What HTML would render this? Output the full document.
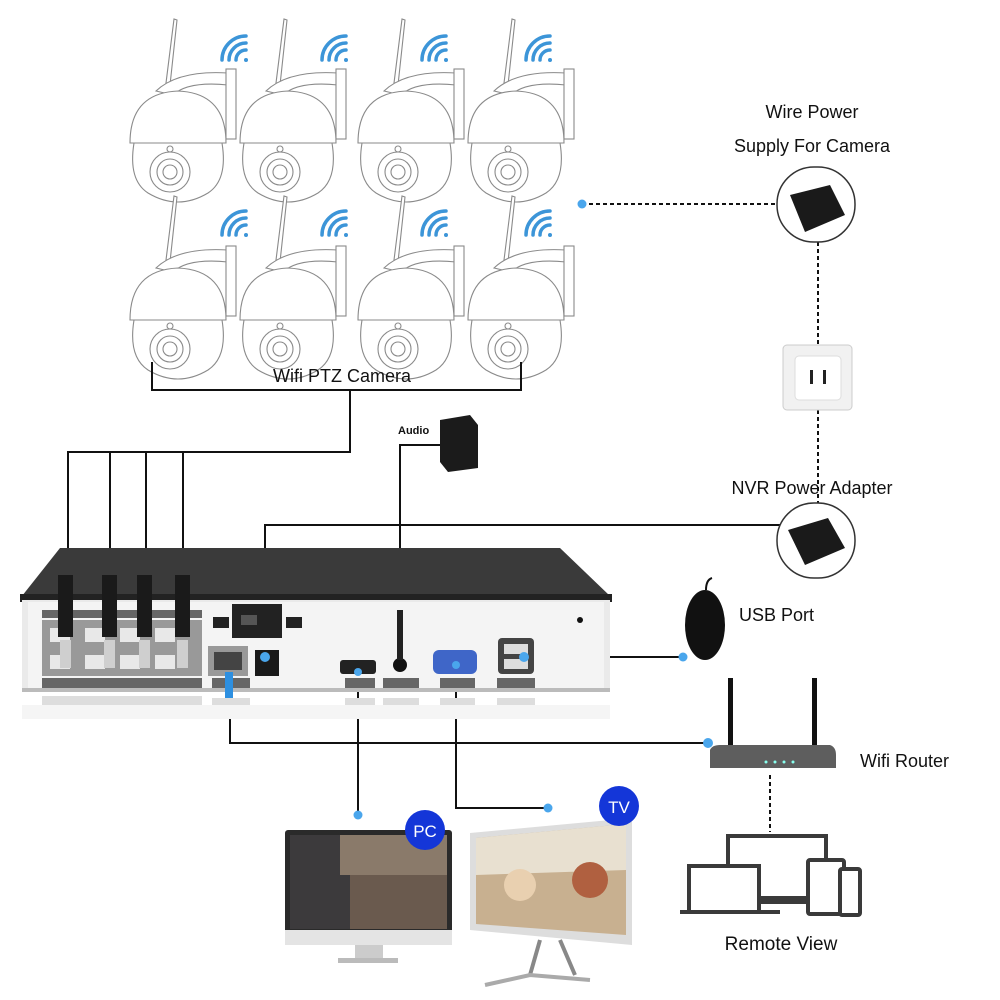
<!DOCTYPE html>
<html><head><meta charset="utf-8"><style>
html,body{margin:0;padding:0;background:#fff;width:1000px;height:1000px;overflow:hidden}
svg{display:block}
text{font-family:"Liberation Sans",sans-serif;fill:#111}
</style></head><body>
<svg width="1000" height="1000" viewBox="0 0 1000 1000" xmlns="http://www.w3.org/2000/svg">
<defs>
<g id="cam" fill="#fff" stroke="#8a8a8a" stroke-width="1.1">
  <path d="M38 68 L46 4 L49 5 L42 70 Z"/>
  <path d="M28 76 Q50 55 100 58 L100 70 Q60 66 45 80 Z"/>
  <rect x="98" y="54" width="10" height="70"/>
  <path d="M2 128 Q2 78 50 76 Q98 78 98 128 Z"/>
  <path d="M6 128 L94 128 Q100 165 80 178 Q50 196 20 178 Q0 165 6 128 Z"/>
  <circle cx="42" cy="157" r="20"/>
  <circle cx="42" cy="157" r="13"/>
  <circle cx="42" cy="157" r="7"/>
  <circle cx="42" cy="134" r="3"/>
</g>
<g id="wifi" fill="none" stroke="#3c95d8" stroke-width="3.5" stroke-linecap="round">
  <path d="M10 22 A10 10 0 0 1 20 12"/>
  <path d="M3 22 A17 17 0 0 1 20 5"/>
  <path d="M-4 22 A24 24 0 0 1 20 -2"/>
  <circle cx="20" cy="22" r="2" fill="#3c95d8" stroke="none"/>
</g>
</defs>

<g>
<use href="#cam" x="128" y="15"/><use href="#cam" x="238" y="15"/><use href="#cam" x="356" y="15"/><use href="#cam" x="466" y="15"/>
<use href="#cam" x="128" y="192"/><use href="#cam" x="238" y="192"/><use href="#cam" x="356" y="192"/><use href="#cam" x="466" y="192"/>
<use href="#wifi" x="226" y="38"/><use href="#wifi" x="326" y="38"/><use href="#wifi" x="426" y="38"/><use href="#wifi" x="530" y="38"/>
<use href="#wifi" x="226" y="213"/><use href="#wifi" x="326" y="213"/><use href="#wifi" x="426" y="213"/><use href="#wifi" x="530" y="213"/>
</g>

<g stroke="#111" stroke-width="2" fill="none">
<path d="M152 362 V390 H521 V362"/>
<path d="M350 390 V452 H68 V600"/>
<path d="M110 452 V600 M146 452 V600 M183 452 V600"/>
<path d="M265 660 V525 H780"/>
<path d="M400 640 V445 H440"/>
<path d="M528 657 H683"/>
<path d="M230 680 V743 H708"/>
<path d="M358 680 V815"/>
<path d="M456 665 V808 H548"/>
</g>
<text x="342" y="382" font-size="18" text-anchor="middle">Wifi PTZ Camera</text>

<g stroke="#111" stroke-width="2" stroke-dasharray="4,3" fill="none">
<path d="M582 204 H775"/>
<path d="M818 242 V345"/>
<path d="M818 410 V505"/>
<path d="M770 775 V832"/>
</g>
<text x="812" y="118" font-size="18" text-anchor="middle">Wire Power</text>
<text x="812" y="152" font-size="18" text-anchor="middle">Supply For Camera</text>
<text x="812" y="494" font-size="18" text-anchor="middle">NVR Power Adapter</text>
<text x="739" y="621" font-size="18">USB Port</text>
<text x="860" y="767" font-size="18">Wifi Router</text>
<text x="781" y="950" font-size="19" text-anchor="middle">Remote View</text>

<g>
<rect x="777" y="167" width="78" height="75" rx="37" fill="#fff" stroke="#333" stroke-width="1.5"/>
<path d="M790 195 L830 185 L845 215 L805 232 Z" fill="#1a1a1a"/>
<rect x="777" y="503" width="78" height="75" rx="37" fill="#fff" stroke="#333" stroke-width="1.5"/>
<path d="M788 530 L828 518 L845 548 L805 565 Z" fill="#1a1a1a"/>
<rect x="783" y="345" width="69" height="65" rx="4" fill="#f1f1f1" stroke="#ccc"/>
<rect x="795" y="356" width="46" height="44" rx="4" fill="#fff" stroke="#ddd"/>
<rect x="810" y="370" width="3" height="14" fill="#222"/><rect x="823" y="370" width="3" height="14" fill="#222"/>
</g>

<text x="398" y="434" font-size="11" font-weight="bold">Audio</text>
<path d="M440 420 L470 415 L478 425 L478 468 L448 472 L440 462 Z" fill="#1b1b1b"/>

<path d="M22 596 L60 548 L560 548 L610 596 Z" fill="#3a3a3a"/>
<rect x="20" y="594" width="592" height="8" fill="#222"/>
<rect x="22" y="600" width="588" height="90" fill="#eaeaea"/>
<rect x="28" y="602" width="576" height="86" fill="#f4f4f4"/>
<rect x="22" y="688" width="588" height="4" fill="#bbb"/>
<g fill="#666">
<rect x="42" y="610" width="160" height="8"/>
<rect x="42" y="678" width="160" height="10"/>
<rect x="212" y="678" width="38" height="10"/><rect x="345" y="678" width="30" height="10"/><rect x="383" y="678" width="36" height="10"/><rect x="440" y="678" width="35" height="10"/><rect x="497" y="678" width="38" height="10"/>
</g>
<g fill="#999"><rect x="42" y="620" width="160" height="56"/></g>
<g fill="#e8e8e8"><rect x="50" y="628" width="20" height="14"/><rect x="85" y="628" width="20" height="14"/><rect x="120" y="628" width="20" height="14"/><rect x="155" y="628" width="20" height="14"/>
<rect x="50" y="655" width="20" height="14"/><rect x="85" y="655" width="20" height="14"/><rect x="120" y="655" width="20" height="14"/><rect x="155" y="655" width="20" height="14"/></g>
<g fill="#1a1a1a"><rect x="58" y="575" width="15" height="62"/><rect x="102" y="575" width="15" height="62"/><rect x="137" y="575" width="15" height="62"/><rect x="175" y="575" width="15" height="62"/></g>
<g fill="#cfcfcf"><rect x="60" y="640" width="11" height="28"/><rect x="104" y="640" width="11" height="28"/><rect x="139" y="640" width="11" height="28"/><rect x="177" y="640" width="11" height="28"/></g>
<rect x="232" y="604" width="50" height="34" fill="#222"/>
<rect x="241" y="615" width="16" height="10" fill="#555"/>
<rect x="213" y="617" width="16" height="11" fill="#222"/><rect x="286" y="617" width="16" height="11" fill="#222"/>
<rect x="208" y="646" width="40" height="30" fill="#999"/><rect x="214" y="652" width="28" height="18" fill="#444"/>
<rect x="255" y="650" width="24" height="26" fill="#1a1a1a"/>
<rect x="225" y="672" width="8" height="46" fill="#2d8fe0"/>
<rect x="340" y="660" width="36" height="14" rx="3" fill="#222"/>
<circle cx="400" cy="665" r="7" fill="#111"/><rect x="397" y="610" width="6" height="50" fill="#222"/>
<rect x="433" y="650" width="44" height="24" rx="6" fill="#3f66c8"/>
<rect x="498" y="638" width="36" height="36" rx="4" fill="#444"/>
<rect x="504" y="644" width="24" height="10" fill="#ddd"/><rect x="504" y="659" width="24" height="10" fill="#ddd"/>
<circle cx="580" cy="620" r="3" fill="#111"/>
<g fill="#ddd"><rect x="42" y="696" width="160" height="10"/><rect x="212" y="698" width="38" height="8"/><rect x="345" y="698" width="30" height="8"/><rect x="383" y="698" width="36" height="8"/><rect x="440" y="698" width="35" height="8"/><rect x="497" y="698" width="38" height="8"/></g>
<rect x="22" y="705" width="588" height="14" fill="#f5f5f5"/>

<ellipse cx="705" cy="625" rx="20" ry="35" fill="#111"/>
<path d="M706 590 Q706 580 712 578" stroke="#111" fill="none" stroke-width="2"/>

<rect x="728" y="678" width="5" height="80" fill="#111"/><rect x="812" y="678" width="5" height="80" fill="#111"/>
<path d="M710 750 Q712 745 720 745 L830 745 Q836 747 836 755 L836 768 L710 768 Z" fill="#5e5e5e"/>
<g fill="#8fe"><circle cx="766" cy="762" r="1.5"/><circle cx="775" cy="762" r="1.5"/><circle cx="784" cy="762" r="1.5"/><circle cx="793" cy="762" r="1.5"/></g>

<g fill="#fff" stroke="#3a3a3a" stroke-width="4">
<rect x="728" y="836" width="98" height="62"/>
<rect x="689" y="866" width="70" height="46"/>
<rect x="808" y="860" width="36" height="54" rx="2"/>
<rect x="840" y="869" width="20" height="46" rx="2"/>
</g>
<rect x="760" y="896" width="48" height="8" fill="#3a3a3a"/>
<rect x="680" y="910" width="100" height="4" fill="#3a3a3a"/>

<rect x="285" y="830" width="167" height="110" rx="3" fill="#2a2a2a"/>
<rect x="290" y="835" width="157" height="94" fill="#6a5a4e"/>
<rect x="290" y="835" width="60" height="94" fill="#3c3a3c"/>
<rect x="340" y="835" width="107" height="40" fill="#8a7a6a"/>
<rect x="285" y="930" width="167" height="15" fill="#e4e4e4"/>
<rect x="355" y="945" width="28" height="15" fill="#ccc"/>
<rect x="338" y="958" width="60" height="5" fill="#bbb"/>
<circle cx="425" cy="830" r="20" fill="#1436d8"/>
<text x="425" y="837" font-size="17" text-anchor="middle" style="fill:#fff">PC</text>

<path d="M470 833 L632 818 L632 945 L470 930 Z" fill="#ddd"/>
<path d="M476 838 L626 824 L626 935 L476 924 Z" fill="#c8b090"/>
<path d="M476 838 L626 824 L626 870 L476 875 Z" fill="#e8e0d0"/>
<circle cx="520" cy="885" r="16" fill="#e9d0b0"/><circle cx="590" cy="880" r="18" fill="#b06040"/>
<path d="M540 940 L530 975 M560 940 L575 975" stroke="#888" stroke-width="4"/>
<path d="M485 985 L530 975 L590 980" stroke="#aaa" stroke-width="4" fill="none"/>
<circle cx="619" cy="806" r="20" fill="#1436d8"/>
<text x="619" y="813" font-size="17" text-anchor="middle" style="fill:#fff">TV</text>

<g fill="#4aa6ec">
<circle cx="582" cy="204" r="4.5"/><circle cx="265" cy="657" r="5"/><circle cx="683" cy="657" r="4.5"/><circle cx="524" cy="657" r="5"/>
<circle cx="708" cy="743" r="5"/><circle cx="358" cy="815" r="4.5"/><circle cx="548" cy="808" r="4.5"/><circle cx="358" cy="672" r="4"/><circle cx="456" cy="665" r="4"/>
</g>
</svg>
</body></html>
